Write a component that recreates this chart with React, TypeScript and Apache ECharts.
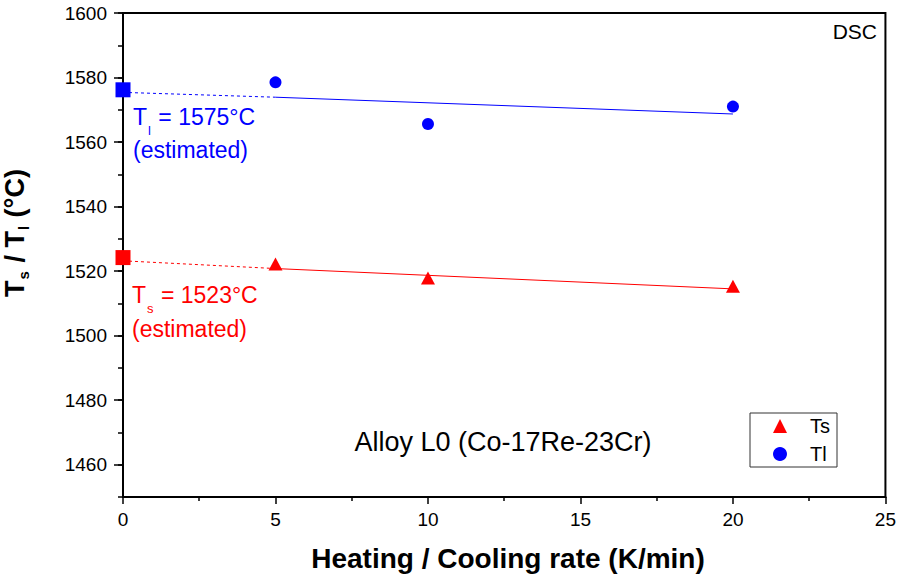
import React, { useEffect, useRef } from "react";
import * as echarts from "echarts";

// ---- data ----
const rates = [5, 10, 20];
const tsValues = [1522.2, 1517.9, 1515.3];
const tlValues = [1578.5, 1565.6, 1571.0];

const fitRates = [5, 20];
const tsFit = [1520.8, 1514.5];
const tlFit = [1573.9, 1568.7];

const extrapRates = [0, 5];
const tsExtrap = [1523.2, 1520.8];
const tlExtrap = [1575.4, 1573.9];

const estimateRate = 0;
const tsEstimate = 1524.2;
const tlEstimate = 1576.2;

const yMajorTicks = [1460, 1480, 1500, 1520, 1540, 1560, 1580, 1600];

const FONT = 'Arial, "Liberation Sans", sans-serif';
const RED = "#ff0000";
const BLUE = "#0000ff";

const pairs = (xs: number[], ys: number[]) => xs.map((x, i) => [x, ys[i]]);

export default function App() {
  const ref = useRef<HTMLDivElement>(null);

  useEffect(() => {
    if (!ref.current) return;
    const chart = echarts.init(ref.current, null, { renderer: "svg" });

    const subRich = (pad: number, size: number, color: string, bold = false) => ({
      fontSize: size,
      fontFamily: FONT,
      fontWeight: bold ? "bold" : "normal",
      fill: color,
      verticalAlign: "top",
      padding: [pad, 1, 0, 1],
    });
    const mainRich = (size: number, color: string, lh: number, bold = false) => ({
      fontSize: size,
      fontFamily: FONT,
      fontWeight: bold ? "bold" : "normal",
      fill: color,
      verticalAlign: "top",
      lineHeight: lh,
    });

    const option: any = {
      animation: false,
      backgroundColor: "#fff",
      grid: {
        left: 123,
        right: 13,
        top: 13,
        bottom: 79,
        show: true,
        borderColor: "#000",
        borderWidth: 2,
      },
      legend: {
        data: ["Ts", "Tl"],
        orient: "vertical",
        left: 750,
        top: 413,
        padding: [3, 7, 3, 23],
        itemWidth: 14,
        itemHeight: 14,
        itemGap: 8,
        borderColor: "#333",
        borderWidth: 1,
        textStyle: {
          fontFamily: FONT,
          fontSize: 20,
          color: "#000",
          padding: [0, 0, 0, 18],
        },
      },
      xAxis: {
        type: "value",
        min: 0,
        max: 25,
        interval: 5,
        axisLine: { show: true, onZero: false, lineStyle: { color: "#000", width: 2 } },
        axisTick: { show: true, inside: false, length: 7, lineStyle: { color: "#000", width: 1.5 } },
        minorTick: { show: true, splitNumber: 2, length: 4, lineStyle: { color: "#000", width: 1.5 } },
        axisLabel: { fontFamily: FONT, fontSize: 19, color: "#000", margin: 13 },
        splitLine: { show: false },
        minorSplitLine: { show: false },
      },
      yAxis: [
        {
          type: "value",
          min: 1450,
          max: 1600,
          interval: 10,
          position: "left",
          axisLine: { show: true, onZero: false, lineStyle: { color: "#000", width: 2 } },
          axisTick: {
            show: true,
            inside: false,
            length: 9,
            customValues: yMajorTicks,
            lineStyle: { color: "#000", width: 1.5 },
          },
          axisLabel: {
            fontFamily: FONT,
            fontSize: 19,
            color: "#000",
            margin: 16,
            customValues: yMajorTicks,
            formatter: (v: number) => String(v),
          },
          splitLine: { show: false },
        },
        {
          type: "value",
          min: 1450,
          max: 1600,
          interval: 10,
          position: "left",
          axisLine: { show: false },
          axisTick: { show: true, inside: false, length: 5, lineStyle: { color: "#000", width: 1.5 } },
          axisLabel: { show: false },
          splitLine: { show: false },
        },
      ],
      series: [
        {
          name: "Ts fit",
          type: "line",
          data: pairs(fitRates, tsFit),
          symbol: "none",
          lineStyle: { color: RED, width: 1 },
          z: 3,
        },
        {
          name: "Ts extrap",
          type: "line",
          data: pairs(extrapRates, tsExtrap),
          symbol: "none",
          lineStyle: { color: RED, width: 1, type: [3, 3] },
          clip: false,
          z: 3,
        },
        {
          name: "Tl fit",
          type: "line",
          data: pairs(fitRates, tlFit),
          symbol: "none",
          lineStyle: { color: BLUE, width: 1 },
          z: 3,
        },
        {
          name: "Tl extrap",
          type: "line",
          data: pairs(extrapRates, tlExtrap),
          symbol: "none",
          lineStyle: { color: BLUE, width: 1, type: [3, 3] },
          clip: false,
          z: 3,
        },
        {
          name: "Ts",
          type: "scatter",
          data: pairs(rates, tsValues),
          symbol: "triangle",
          symbolSize: [14, 13],
          itemStyle: { color: RED, opacity: 1 },
          z: 4,
        },
        {
          name: "Tl",
          type: "scatter",
          data: pairs(rates, tlValues),
          symbol: "circle",
          symbolSize: 12,
          itemStyle: { color: BLUE, opacity: 1 },
          z: 4,
        },
        {
          name: "Ts estimate",
          type: "scatter",
          data: [[estimateRate, tsEstimate]],
          symbol: "rect",
          symbolSize: 15,
          itemStyle: { color: RED, opacity: 1 },
          clip: false,
          z: 5,
        },
        {
          name: "Tl estimate",
          type: "scatter",
          data: [[estimateRate, tlEstimate]],
          symbol: "rect",
          symbolSize: 15,
          itemStyle: { color: BLUE, opacity: 1 },
          clip: false,
          z: 5,
        },
      ],
      graphic: [
        {
          type: "text",
          x: 133,
          y: 105.5,
          z: 10,
          style: {
            text: "{m|T}{s|l}{m| = 1575°C}",
            align: "left",
            verticalAlign: "top",
            rich: { m: mainRich(23, BLUE, 26), s: subRich(18.5, 13, BLUE) },
          },
        },
        {
          type: "text",
          x: 133,
          y: 150,
          z: 10,
          style: {
            text: "(estimated)",
            fill: BLUE,
            font: `23px ${FONT}`,
            align: "left",
            verticalAlign: "middle",
          },
        },
        {
          type: "text",
          x: 132,
          y: 283.2,
          z: 10,
          style: {
            text: "{m|T}{s|s}{m| = 1523°C}",
            align: "left",
            verticalAlign: "top",
            rich: { m: mainRich(23, RED, 26), s: subRich(18.5, 13, RED) },
          },
        },
        {
          type: "text",
          x: 132,
          y: 329,
          z: 10,
          style: {
            text: "(estimated)",
            fill: RED,
            font: `23px ${FONT}`,
            align: "left",
            verticalAlign: "middle",
          },
        },
        {
          type: "text",
          x: 877,
          y: 31,
          z: 10,
          style: {
            text: "DSC",
            fill: "#000",
            font: `21px ${FONT}`,
            align: "right",
            verticalAlign: "middle",
          },
        },
        {
          type: "text",
          x: 503,
          y: 442,
          z: 10,
          style: {
            text: "Alloy L0 (Co-17Re-23Cr)",
            fill: "#000",
            font: `27px ${FONT}`,
            align: "center",
            verticalAlign: "middle",
          },
        },
        {
          type: "text",
          x: 508,
          y: 558,
          z: 10,
          style: {
            text: "Heating / Cooling rate (K/min)",
            fill: "#000",
            font: `bold 28px ${FONT}`,
            align: "center",
            verticalAlign: "middle",
          },
        },
        {
          type: "text",
          x: 17,
          y: 233,
          rotation: Math.PI / 2,
          z: 10,
          style: {
            text: "{m|T}{s|s}{m| / T}{s|l}{m| (°C)}",
            align: "center",
            verticalAlign: "middle",
            rich: { m: mainRich(27, "#000", 32, true), s: subRich(15, 15, "#000", true) },
          },
        },
      ],
    };

    chart.setOption(option);
    return () => chart.dispose();
  }, []);

  return (
    <div
      ref={ref}
      style={{ position: "absolute", left: 0, top: 0, width: 899, height: 576 }}
    />
  );
}
